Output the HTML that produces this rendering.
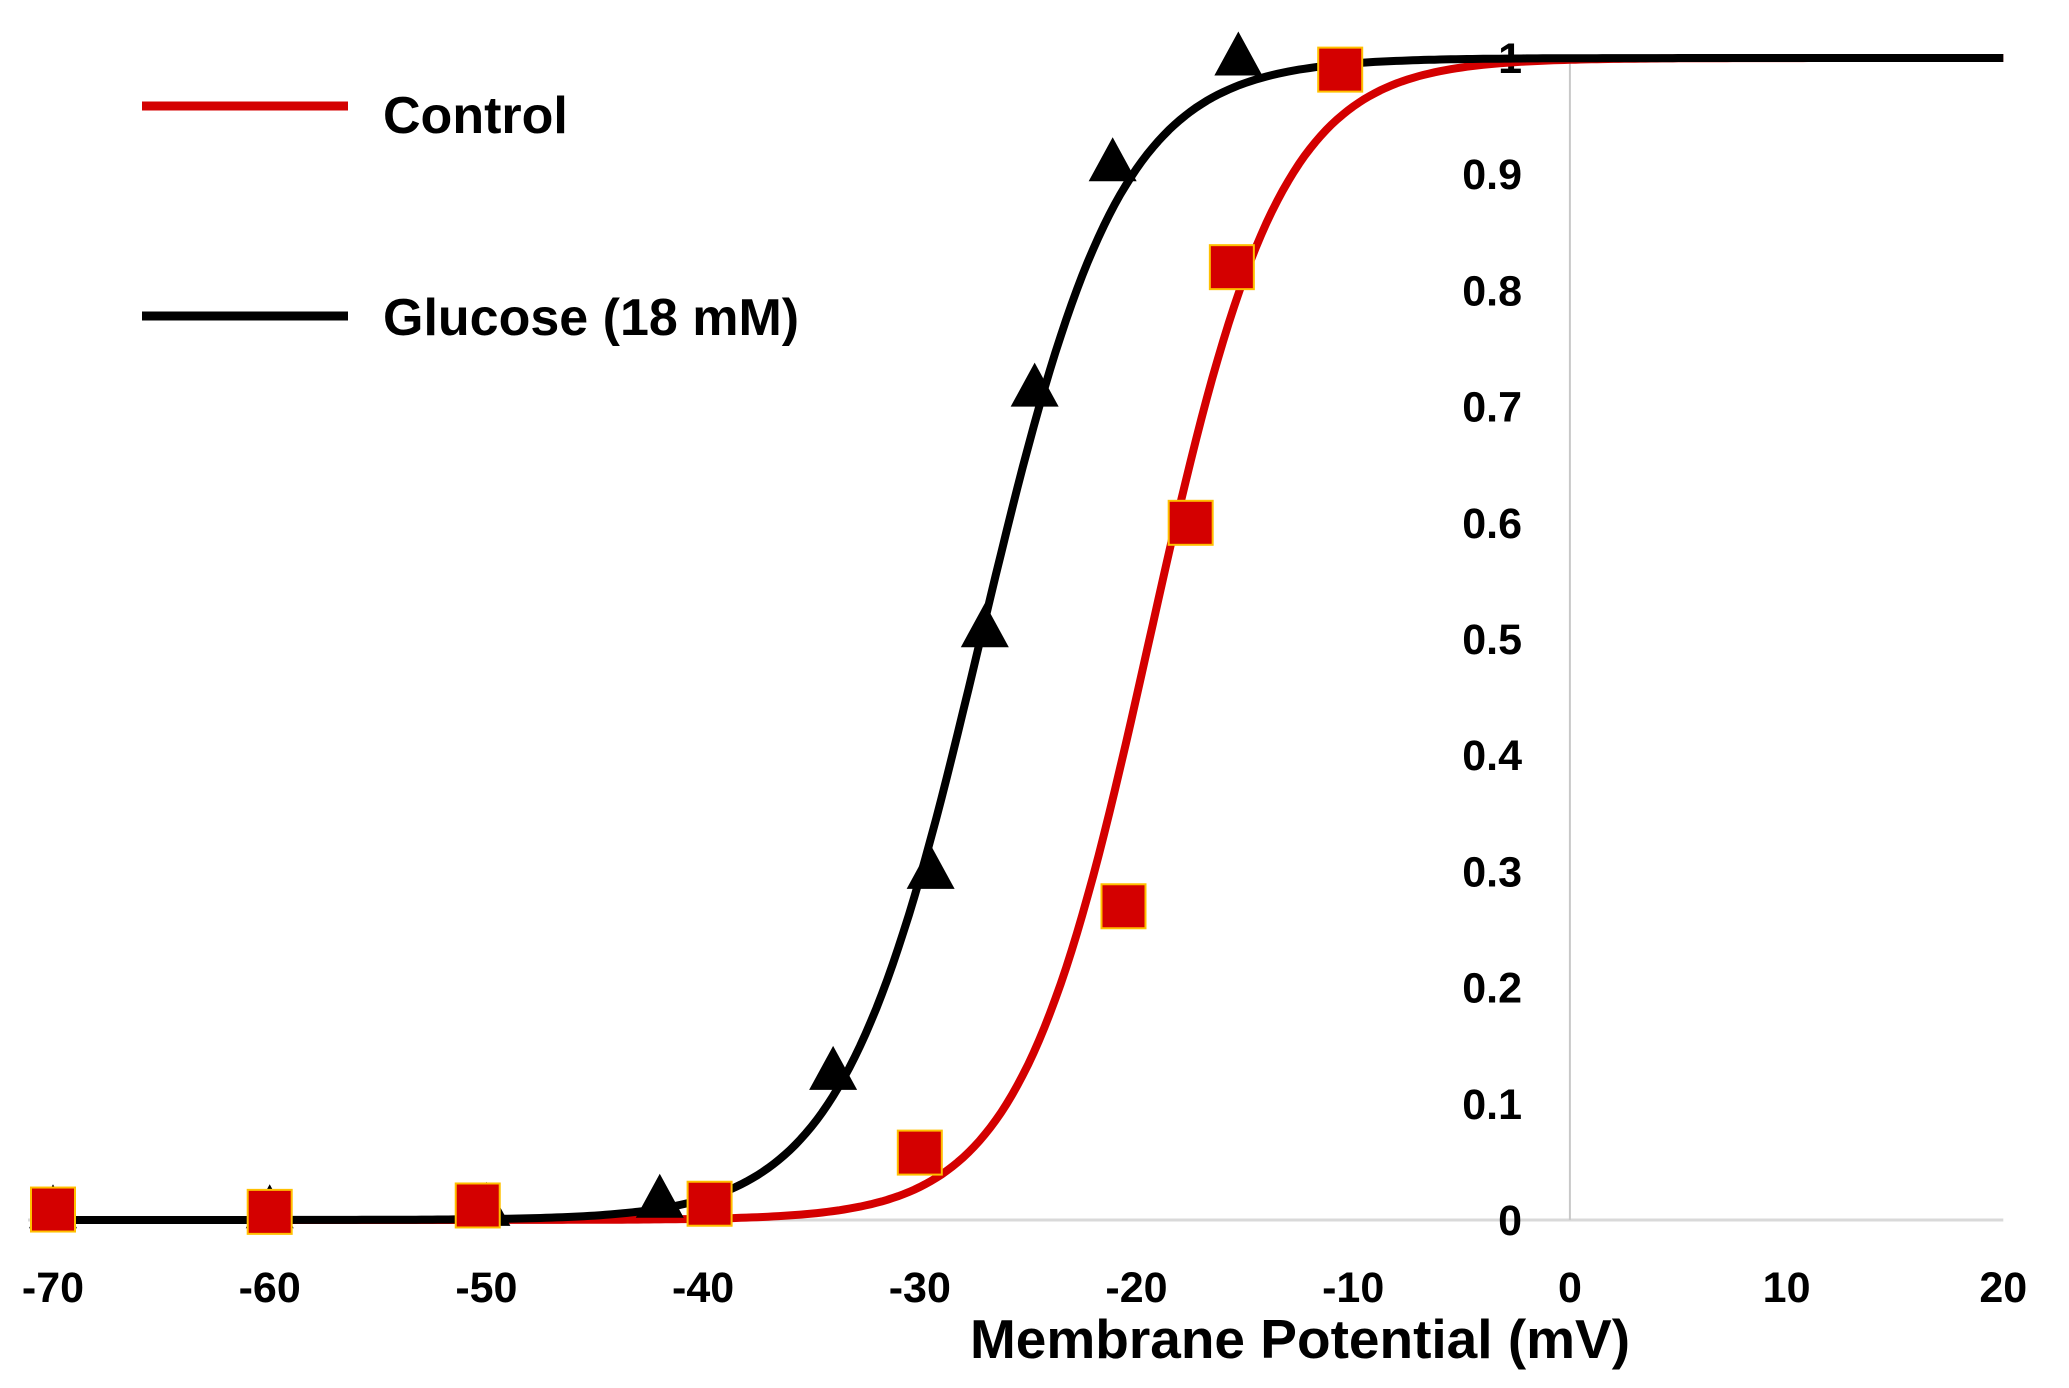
<!DOCTYPE html>
<html><head><meta charset="utf-8"><style>
html,body{margin:0;padding:0;background:#fff;}
svg{display:block;font-family:"Liberation Sans",sans-serif;font-weight:bold;}
</style></head><body>
<svg id="chart" width="2069" height="1388" viewBox="0 0 2069 1388" xmlns="http://www.w3.org/2000/svg">
<g id="axes"></g>
<g id="curves"></g>
<g id="marks"></g>
<g id="legend">
  <line x1="142" y1="106" x2="348" y2="106" stroke="#d40000" stroke-width="9"/>
  <text x="383" y="133" font-size="52">Control</text>
  <line x1="142" y1="316" x2="348" y2="316" stroke="#000" stroke-width="9"/>
  <text x="383" y="335" font-size="52">Glucose (18 mM)</text>
</g>
<text x="1300" y="1358" font-size="55" text-anchor="middle">Membrane Potential (mV)</text>
</svg>
<script>
const xTicks=[-70,-60,-50,-40,-30,-20,-10,0,10,20];
const yTicks=[0,0.1,0.2,0.3,0.4,0.5,0.6,0.7,0.8,0.9,1];
const yTickLabels=["0","0.1","0.2","0.3","0.4","0.5","0.6","0.7","0.8","0.9","1"];
const glucoseV=[-70,-60,-50,-42,-34,-29.5,-27,-24.7,-21.1,-15.3];
const glucoseG=[0.005,0.005,0.007,0.014,0.124,0.297,0.505,0.712,0.906,0.997];
const controlV=[-70,-60,-50.4,-39.7,-30,-20.6,-17.5,-15.6,-10.6];
const controlG=[0.009,0.007,0.0125,0.014,0.058,0.27,0.6,0.82,0.99];
const glucoseFit=[-27.2,3.2];
const controlFit=[-19.4,3.0];
const NS="http://www.w3.org/2000/svg";
const X=v=>53+(v+70)*21.67;
const Y=g=>1220-g*1162;
function el(t,a,p){const e=document.createElementNS(NS,t);for(const k in a)e.setAttribute(k,a[k]);p.appendChild(e);return e;}
const axes=document.getElementById('axes');
let l=el('line',{x1:X(-70)-25,y1:Y(0),x2:X(20),y2:Y(0),stroke:'#d9d9d9','stroke-width':3},axes);


l=el('line',{x1:X(0),y1:Y(1),x2:X(0),y2:Y(0),stroke:'#c8c8c8','stroke-width':2},axes);


xTicks.forEach(v=>{const t=el('text',{x:X(v),y:1302,'font-size':43,'text-anchor':'middle'},axes);t.textContent=String(v);

});
yTicks.forEach((g,i)=>{const t=el('text',{x:1522,y:Y(g)+15,'font-size':43,'text-anchor':'end'},axes);t.textContent=yTickLabels[i];

});
const curves=document.getElementById('curves');
function fit(p,color,name){let d='';for(let v=-70;v<=20.001;v+=0.25){const g=1/(1+Math.exp((p[0]-v)/p[1]));d+=(d?'L':'M')+X(v).toFixed(1)+','+Y(g).toFixed(1);}
const path=el('path',{d:d,fill:'none',stroke:color,'stroke-width':8},curves);

}
fit(controlFit,'#d40000','control-fit-curve');
fit(glucoseFit,'#000','glucose-fit-curve');
const marks=document.getElementById('marks');
glucoseV.forEach((v,i)=>{const cx=X(v),cy=Y(glucoseG[i]);
const p=el('polygon',{points:`${cx},${cy-30} ${cx-24},${cy+14} ${cx+24},${cy+14}`,fill:'#000'},marks);

});
controlV.forEach((v,i)=>{const cx=X(v),cy=Y(controlG[i]);
const r=el('rect',{x:cx-22,y:cy-22,width:44,height:44,fill:'#d40000',stroke:'#ffc000','stroke-width':2},marks);

});
</script>
</body></html>
